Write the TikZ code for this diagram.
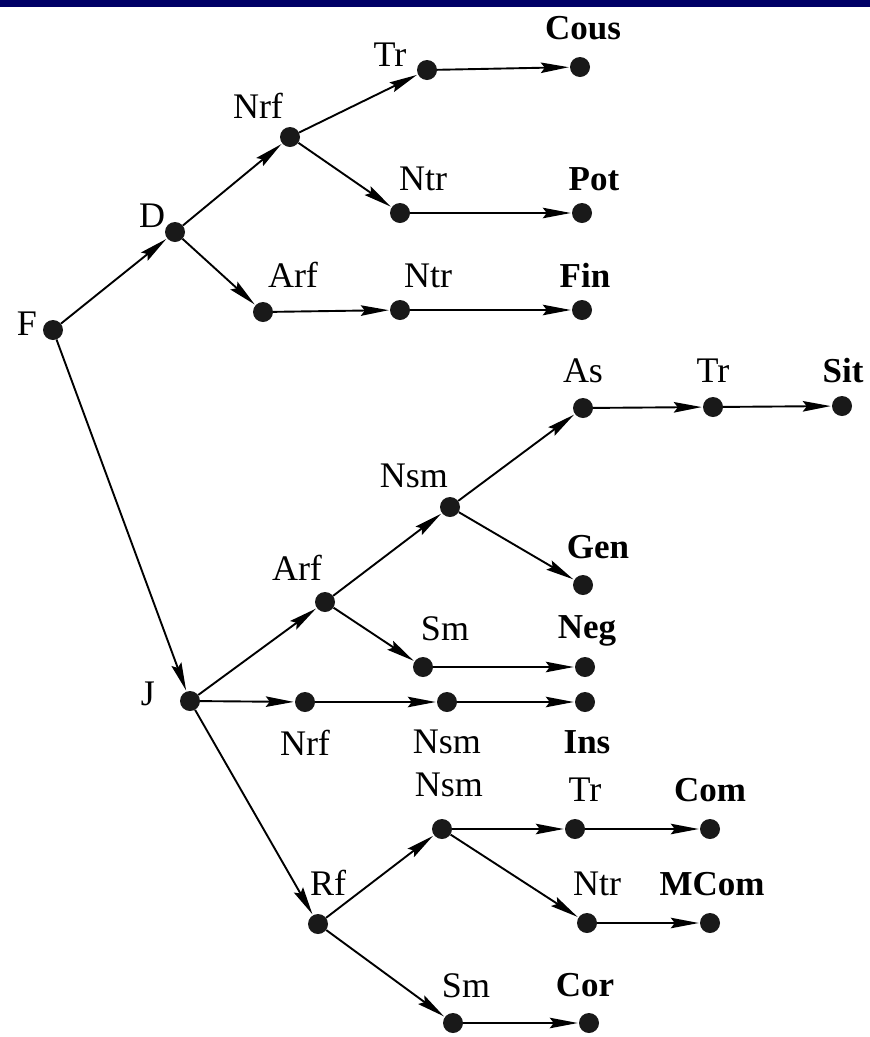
\documentclass[tikz,border=0pt]{standalone}
\usepackage{fontspec}
\setmainfont{Liberation Serif}
\usetikzlibrary{arrows.meta}
\definecolor{navy}{HTML}{000066}
\tikzset{
  dot/.style={circle,fill=black!90,inner sep=0pt,minimum size=20pt},
  lab/.style={anchor=base,inner sep=0pt,font=\fontsize{36}{42}\selectfont},
  leaf/.style={anchor=base,inner sep=0pt,font=\fontsize{35}{42}\selectfont\bfseries},
  arr/.style={line width=1.9pt,shorten >=1pt,-{Stealth[length=28pt,width=10.5pt,inset=4pt]}}
}
\begin{document}
\begin{tikzpicture}[x=1pt,y=-1pt]
\useasboundingbox (0,0) rectangle (870,1037);
\fill[navy] (0,0) rectangle (870,7);
% dots
\node[dot] (F) at (53,330) {};
\node[dot] (D) at (175,232) {};
\node[dot] (Nrf) at (290,137) {};
\node[dot] (Tr) at (427,70) {};
\node[dot] (Cous) at (580,67) {};
\node[dot] (Ntr) at (400,213) {};
\node[dot] (Pot) at (582,213) {};
\node[dot] (Arf) at (263,312) {};
\node[dot] (NtrB) at (400,310) {};
\node[dot] (Fin) at (582,310) {};
\node[dot] (As) at (583,408) {};
\node[dot] (TrB) at (713,407) {};
\node[dot] (Sit) at (842,406) {};
\node[dot] (Nsm) at (450,507) {};
\node[dot] (Gen) at (583,585) {};
\node[dot] (ArfB) at (325,602) {};
\node[dot] (Sm) at (423,667) {};
\node[dot] (Neg) at (585,667) {};
\node[dot] (J) at (190,701) {};
\node[dot] (NrfB) at (305,702) {};
\node[dot] (NsmB) at (447,702) {};
\node[dot] (Ins) at (585,702) {};
\node[dot] (Rf) at (318,924) {};
\node[dot] (NsmC) at (442,829) {};
\node[dot] (TrC) at (575,829) {};
\node[dot] (Com) at (710,829) {};
\node[dot] (NtrC) at (587,923) {};
\node[dot] (MCom) at (710,923) {};
\node[dot] (SmB) at (453,1023) {};
\node[dot] (Cor) at (589,1023) {};
% labels
\node[lab] (lF) at (27,335) {F};
\node[lab] (lD) at (152,227) {D};
\node[lab] (lNrf) at (258,118) {Nrf};
\node[lab] (lTr) at (390,66) {Tr};
\node[leaf] (lCous) at (583,39) {Cous};
\node[lab] (lNtr) at (423,190) {Ntr};
\node[leaf] (lPot) at (594,190) {Pot};
\node[lab] (lArf) at (293,287) {Arf};
\node[lab] (lNtrB) at (428,287) {Ntr};
\node[leaf] (lFin) at (585,287) {Fin};
\node[lab] (lAs) at (583,382) {As};
\node[lab] (lTrB) at (713,382) {Tr};
\node[leaf] (lSit) at (843,382) {Sit};
\node[lab] (lNsm) at (414,487) {Nsm};
\node[leaf] (lGen) at (598,558) {Gen};
\node[lab] (lArfB) at (297,580) {Arf};
\node[lab] (lSm) at (445,640) {Sm};
\node[leaf] (lNeg) at (587,638) {Neg};
\node[lab] (lJ) at (148,705) {J};
\node[lab] (lNrfB) at (305,755) {Nrf};
\node[lab] (lNsmB) at (447,753) {Nsm};
\node[leaf] (lIns) at (587,753) {Ins};
\node[lab] (lNsmC) at (449,796) {Nsm};
\node[lab] (lTrC) at (585,801) {Tr};
\node[leaf] (lCom) at (710,801) {Com};
\node[lab] (lRf) at (328,895) {Rf};
\node[lab] (lNtrC) at (597,895) {Ntr};
\node[leaf] (lMCom) at (712,895) {MCom};
\node[lab] (lSmB) at (466,997) {Sm};
\node[leaf] (lCor) at (585,996) {Cor};
% edges
\draw[arr] (F) -- (D);
\draw[arr] (F) -- (J);
\draw[arr] (D) -- (Nrf);
\draw[arr] (D) -- (Arf);
\draw[arr] (Nrf) -- (Tr);
\draw[arr] (Nrf) -- (Ntr);
\draw[arr] (Tr) -- (Cous);
\draw[arr] (Ntr) -- (Pot);
\draw[arr] (Arf) -- (NtrB);
\draw[arr] (NtrB) -- (Fin);
\draw[arr] (J) -- (ArfB);
\draw[arr] (J) -- (NrfB);
\draw[arr] (J) -- (Rf);
\draw[arr] (ArfB) -- (Nsm);
\draw[arr] (ArfB) -- (Sm);
\draw[arr] (Nsm) -- (As);
\draw[arr] (Nsm) -- (Gen);
\draw[arr] (As) -- (TrB);
\draw[arr] (TrB) -- (Sit);
\draw[arr] (Sm) -- (Neg);
\draw[arr] (NrfB) -- (NsmB);
\draw[arr] (NsmB) -- (Ins);
\draw[arr] (Rf) -- (NsmC);
\draw[arr] (Rf) -- (SmB);
\draw[arr] (NsmC) -- (TrC);
\draw[arr] (NsmC) -- (NtrC);
\draw[arr] (TrC) -- (Com);
\draw[arr] (NtrC) -- (MCom);
\draw[arr] (SmB) -- (Cor);
\end{tikzpicture}
\end{document}
